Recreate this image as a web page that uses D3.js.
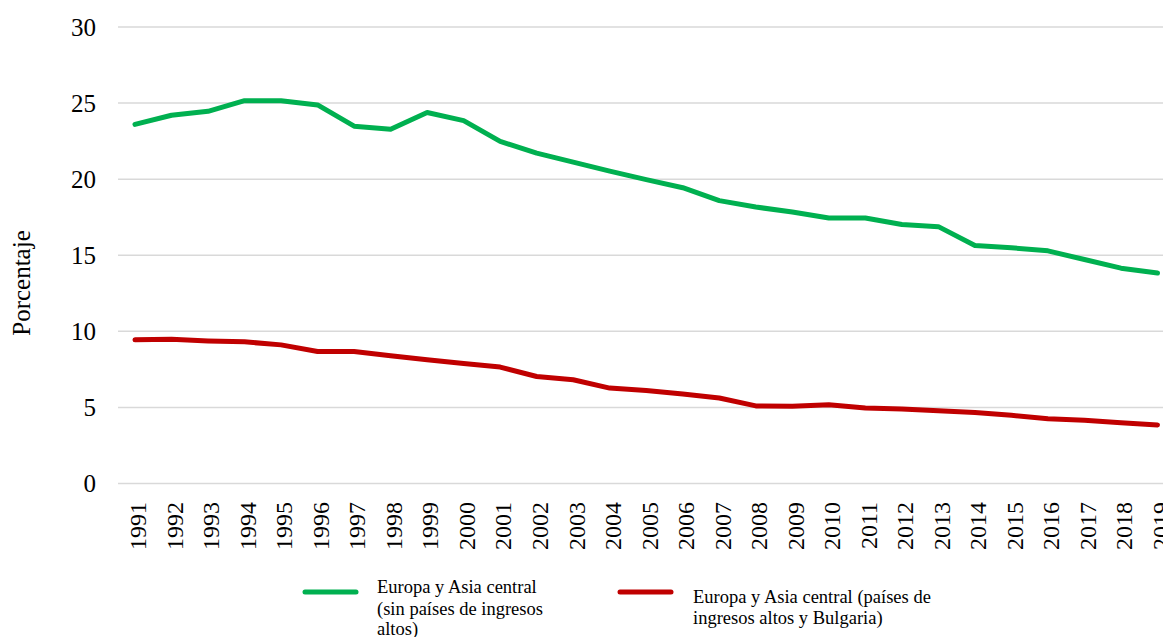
<!DOCTYPE html>
<html><head><meta charset="utf-8">
<script src="https://cdn.jsdelivr.net/npm/d3@7"></script>
<style>body{margin:0;background:#fff;overflow:hidden}</style>
</head><body>
<svg id="c" width="1163" height="637"></svg>
<script>
const years = d3.range(1991, 2020).map(String);
const greenSeries = [23.6,24.2,24.46,25.16,25.16,24.88,23.48,23.28,24.38,23.85,22.48,21.71,21.12,20.53,19.97,19.44,18.59,18.17,17.84,17.45,17.45,17.02,16.88,15.64,15.49,15.29,14.72,14.15,13.83];
const redSeries = [9.44,9.48,9.37,9.31,9.11,8.67,8.67,8.39,8.13,7.88,7.65,7.03,6.82,6.27,6.11,5.88,5.62,5.1,5.08,5.17,4.96,4.9,4.78,4.67,4.48,4.26,4.15,4.0,3.85];
const yTicks = [0,5,10,15,20,25,30];
const legendLabels = [["Europa y Asia central","(sin países de ingresos","altos)"],["Europa y Asia central (países de","ingresos altos y Bulgaria)"]];
const colors = ["#00b050","#c00000"];

const svg = d3.select("#c");
const font = "'Liberation Serif','Times New Roman',serif";
const x = d3.scalePoint().domain(years).range([135, 1157.5]);
const y = d3.scaleLinear().domain([0,30]).range([483.5, 27]);

// grid
svg.append("g").selectAll("line").data(yTicks).join("line")
  .attr("x1",118).attr("x2",1175)
  .attr("y1",d=>y(d)).attr("y2",d=>y(d))
  .attr("stroke","#d9d9d9").attr("stroke-width",1.5);

// y axis labels
const ya = svg.append("g").attr("transform","translate(96,0)")
  .call(d3.axisLeft(y).tickValues(yTicks).tickSize(0).tickPadding(0));
ya.select(".domain").remove();
ya.selectAll("text").attr("font-family",font).attr("font-size",25).attr("fill","#000");

// x axis labels
const xa = svg.append("g").attr("transform","translate(0,492)")
  .call(d3.axisBottom(x).tickSize(0).tickPadding(0));
xa.select(".domain").remove();
xa.selectAll("text").attr("font-family",font).attr("font-size",24).attr("fill","#000")
  .attr("text-anchor","end").attr("transform","rotate(-90)")
  .attr("x",-10).attr("y",0).attr("dy","0.45em");

// y title
svg.append("text").attr("transform","translate(29.5,283) rotate(-90)")
  .attr("text-anchor","middle").attr("font-family",font).attr("font-size",25)
  .text("Porcentaje");

// lines
const line = d3.line().x((d,i)=>x(years[i])).y(d=>y(d));
[greenSeries, redSeries].forEach((s,k)=>{
  svg.append("path").datum(s).attr("d",line).attr("fill","none")
    .attr("stroke",colors[k]).attr("stroke-width",5)
    .attr("stroke-linejoin","round").attr("stroke-linecap","round");
});

// legend
const lg = [{x1:305,x2:356,ly:592,tx:377,ty:[593,615,635]},{x1:620,x2:671,ly:592,tx:693,ty:[603,624]}];
lg.forEach((L,k)=>{
  svg.append("line").attr("x1",L.x1).attr("x2",L.x2).attr("y1",L.ly).attr("y2",L.ly)
    .attr("stroke",colors[k]).attr("stroke-width",5).attr("stroke-linecap","round");
  legendLabels[k].forEach((t,j)=>{
    svg.append("text").attr("x",L.tx).attr("y",L.ty[j]).attr("font-family",font)
      .attr("font-size",18.5).text(t);
  });
});
</script>
</body></html>
